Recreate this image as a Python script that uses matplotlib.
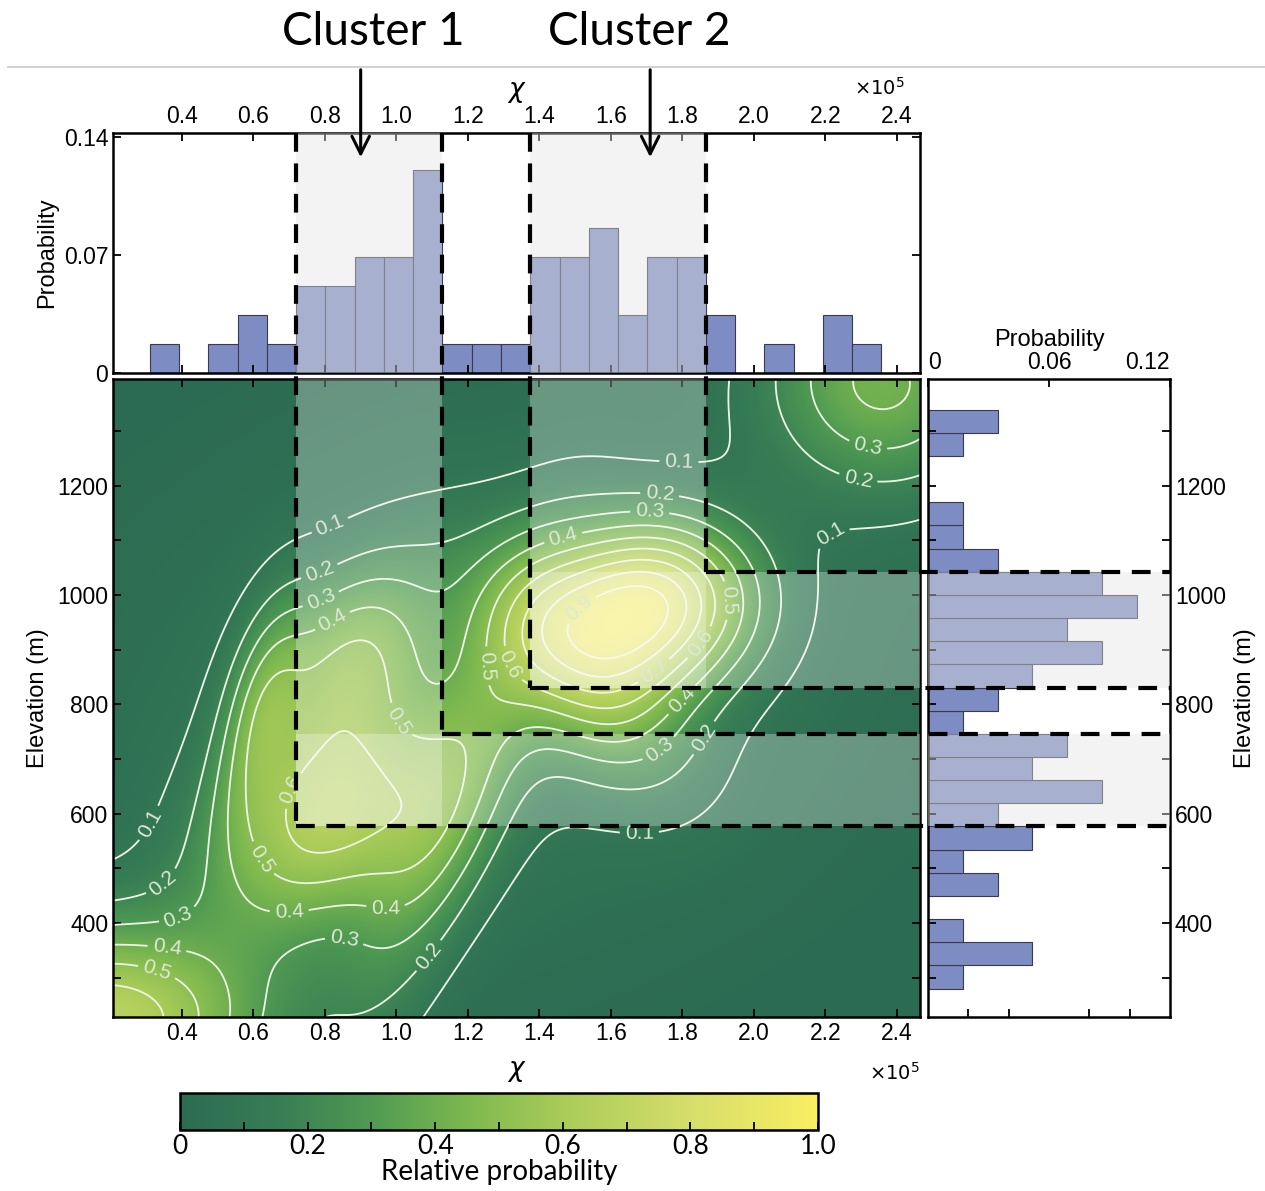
import numpy as np
import matplotlib.pyplot as plt
from matplotlib.colors import LinearSegmentedColormap
from matplotlib.patches import Rectangle, FancyArrowPatch
from matplotlib.lines import Line2D

# chi histogram (x 1e5), 25 equal bins
chi_lo, chi_hi = 0.310, 2.357
chi_prob = [0.0172, 0, 0.0172, 0.0345, 0.0172, 0.0517, 0.0517, 0.069, 0.069, 0.1207,
            0.0172, 0.0172, 0.0172, 0.069, 0.069, 0.0862, 0.0345, 0.069, 0.069,
            0.0345, 0, 0.0172, 0, 0.0345, 0.0172]

# elevation histogram (m), 25 equal bins, bottom to top
elev_lo, elev_hi = 280, 1339
elev_prob = [0.0172, 0.0517, 0.0172, 0, 0.0345, 0.0172, 0.0517, 0.0345, 0.0862, 0.0517,
             0.069, 0.0172, 0.0345, 0.0517, 0.0862, 0.069, 0.1034, 0.0862, 0.0345,
             0.0172, 0.0172, 0, 0, 0.0172, 0.0345]

# clusters as (first bin, last bin + 1)
cluster_names = ['Cluster 1', 'Cluster 2']
cluster_chi_bins = [(5, 10), (13, 19)]
cluster_elev_bins = [(7, 11), (13, 18)]
arrow_chi = [0.90, 1.71]
label_chi = [0.935, 1.68]

# relative probability surface as gaussian pieces
kde_cx = [1.713, 1.246, 0.803, 0.621, 0.175, 2.361, 1.146, 0.876, 1.512]
kde_cy = [984, 830, 587, 792, 218, 1391, 609, 890, 869]
kde_sx = [0.195, 0.729, 0.231, 0.084, 0.317, 0.231, 0.200, 0.165, 0.198]
kde_sy = [106, 353, 152, 141, 130, 140, 294, 129, 141]
kde_rho = [0.02, 0.28, 0.36, 0.47, -0.05, -0.05, 0.80, 0.35, -0.51]
kde_w = [0.787, 0.114, 0.550, 0.253, 0.660, 0.407, 0.265, 0.365, 0.429]

contour_levels = [0.1, 0.2, 0.3, 0.4, 0.5, 0.6, 0.7, 0.8, 0.9]
label_spots = [(0.822, 1114), (1.79, 1233), (0.31, 582), (2.23, 1092), (1.68, 556),
               (0.786, 1040), (1.737, 1187), (2.29, 1207), (0.347, 472), (1.085, 343),
               (1.857, 740), (0.786, 996), (1.709, 1152), (2.32, 1275), (0.386, 416),
               (0.856, 376), (1.737, 716), (0.82, 954), (1.466, 1106), (0.358, 354),
               (0.70, 422), (0.97, 427), (1.80, 807), (0.33, 312), (0.627, 519),
               (1.01, 771), (1.25, 870), (1.93, 990), (0.69, 648), (1.317, 872),
               (1.85, 912), (1.72, 862), (1.50, 985)]

chi_lim = (0.207, 2.465)
elev_lim = (228, 1395)

cmap = LinearSegmentedColormap.from_list('rp', [
    (0.0, '#2c6b53'), (0.15, '#367d55'), (0.3, '#4f9a52'), (0.45, '#7db84f'),
    (0.6, '#a9cb58'), (0.8, '#d6de6b'), (1.0, '#f8ee62')])
bar_color = '#7d8cc3'
plt.rcParams['font.family'] = ['Liberation Sans', 'DejaVu Sans']

W, H = 1265, 1191
fig = plt.figure(figsize=(W / 100, H / 100), dpi=100)


def box(l, t, r, b):
    return [l / W, 1 - b / H, (r - l) / W, (b - t) / H]


ax_top = fig.add_axes(box(113, 133, 920, 373))
ax = fig.add_axes(box(113, 379, 920, 1017))
ax_r = fig.add_axes(box(928, 379, 1170, 1017))
cax = fig.add_axes(box(180, 1093, 818, 1130))

chi_edges = np.linspace(chi_lo, chi_hi, len(chi_prob) + 1)
elev_edges = np.linspace(elev_lo, elev_hi, len(elev_prob) + 1)

# surface
gx = np.linspace(chi_lim[0], chi_lim[1], 400)
gy = np.linspace(elev_lim[0], elev_lim[1], 400)
X, Y = np.meshgrid(gx, gy)
Z = np.zeros_like(X)
for cx, cy, sx, sy, rh, w in zip(kde_cx, kde_cy, kde_sx, kde_sy, kde_rho, kde_w):
    u = (X - cx) / sx
    v = (Y - cy) / sy
    Z += w * np.exp(-0.5 * (u * u - 2 * rh * u * v + v * v) / (1 - rh * rh))
Z = Z / Z.max()

im = ax.imshow(Z, extent=[*chi_lim, *elev_lim], origin='lower', aspect='auto',
               cmap=cmap, vmin=0, vmax=1, interpolation='bilinear')
cs = ax.contour(X, Y, Z, levels=contour_levels, colors='#eef6e4', linewidths=1.3)
ax.clabel(cs, fmt='%.1f', fontsize=15, inline=True, inline_spacing=5, colors='#dfe9d5',
          manual=label_spots)
ax.set_xlim(chi_lim)
ax.set_ylim(elev_lim)

# histograms
ax_top.bar(chi_edges[:-1], chi_prob, width=np.diff(chi_edges), align='edge',
           color=bar_color, edgecolor='#3a3a4a', linewidth=0.8)
ax_top.set_xlim(chi_lim)
ax_top.set_ylim(0, 0.1424)
ax_r.barh(elev_edges[:-1], elev_prob, height=np.diff(elev_edges), align='edge',
          color=bar_color, edgecolor='#3a3a4a', linewidth=0.8)
ax_r.set_xlim(0, 0.12)
ax_r.set_ylim(elev_lim)

# cluster shading
for (c0, c1), (e0, e1) in zip(cluster_chi_bins, cluster_elev_bins):
    x0, x1 = chi_edges[c0], chi_edges[c1]
    y0, y1 = elev_edges[e0], elev_edges[e1]
    ax_top.add_patch(Rectangle((x0, 0), x1 - x0, 1, facecolor='#e4e4e4', alpha=0.42,
                               edgecolor='none', zorder=3))
    ax_r.add_patch(Rectangle((0, y0), 1, y1 - y0, facecolor='#e4e4e4', alpha=0.42,
                             edgecolor='none', zorder=3))
    ax.add_patch(Rectangle((x0, y0), x1 - x0, 2000, facecolor='white', alpha=0.28,
                           edgecolor='none', zorder=3))
    ax.add_patch(Rectangle((x0, y0), 5, y1 - y0, facecolor='white', alpha=0.28,
                           edgecolor='none', zorder=3))

# axes styling
for a in (ax_top, ax, ax_r):
    for s in a.spines.values():
        s.set_linewidth(1.8)
    a.tick_params(direction='in', length=6, width=1.3, labelsize=16.5,
                  top=True, right=True, bottom=True, left=True)

xt = [0.4, 0.6, 0.8, 1.0, 1.2, 1.4, 1.6, 1.8, 2.0, 2.2, 2.4]
for a in (ax_top, ax):
    a.set_xticks(xt)
    a.set_xticklabels([f'{v:.1f}' for v in xt])
ax_top.tick_params(labelbottom=False, labeltop=True)
ax_top.set_yticks([0, 0.07, 0.14])
ax_top.set_yticklabels(['0', '0.07', '0.14'])
ax_top.set_ylabel('Probability', fontsize=17, labelpad=4)
ax_top.set_xlabel(r'$\chi$', fontsize=19, labelpad=6)
ax_top.xaxis.set_label_position('top')
ax_top.text(0.981, 1.19, r'$\times10^5$', transform=ax_top.transAxes, ha='right',
            va='center', fontsize=14)

ax.set_yticks([400, 600, 800, 1000, 1200])
ax.set_yticks(np.arange(300, 1400, 100), minor=True)
ax.tick_params(which='minor', direction='in', length=6, width=1.3,
               top=False, bottom=False, left=True, right=True)
ax.set_ylabel('Elevation (m)', fontsize=17, labelpad=6)
ax.set_xlabel(r'$\chi$', fontsize=19, labelpad=10)
ax.text(1.0, -0.087, r'$\times10^5$', transform=ax.transAxes, ha='right',
        va='center', fontsize=14)

ax_r.set_yticks([400, 600, 800, 1000, 1200])
ax_r.set_yticks(np.arange(300, 1400, 100), minor=True)
ax_r.tick_params(which='minor', direction='in', length=6, width=1.3,
                 left=True, right=True, top=False, bottom=False)
ax_r.tick_params(labelleft=False, labelright=True, labelbottom=False, labeltop=True)
ax_r.set_xticks([0, 0.06, 0.12])
ax_r.set_xticklabels(['0', '0.06', '0.12'])
ax_r.get_xticklabels()[0].set_horizontalalignment('left')
ax_r.get_xticklabels()[-1].set_horizontalalignment('right')
ax_r.set_xticks(np.arange(0.02, 0.12, 0.02), minor=True)
ax_r.tick_params(axis='x', which='minor', direction='in', length=6, width=1.3,
                 bottom=True, top=False)
ax_r.tick_params(axis='x', which='major', bottom=False)
ax_r.set_xlabel('Probability', fontsize=17, labelpad=4)
ax_r.xaxis.set_label_position('top')
ax_r.set_ylabel('Elevation (m)', fontsize=17, labelpad=6)
ax_r.yaxis.set_label_position('right')

# colorbar
cb = fig.colorbar(im, cax=cax, orientation='horizontal')
cb.outline.set_linewidth(1.8)
cb.set_ticks([0, 0.2, 0.4, 0.6, 0.8, 1.0])
cb.set_ticklabels(['0', '0.2', '0.4', '0.6', '0.8', '1.0'])
cax.set_xticks(np.arange(0.1, 1.0, 0.2), minor=True)
cax.tick_params(which='both', direction='in', length=6, width=1.3, labelsize=19,
                colors='black')
cax.tick_params(which='major', pad=3)
for t in cax.get_xticklabels():
    t.set_family('Lato')
cb.set_label('Relative probability', fontsize=20, family='Lato', labelpad=0)

# dashed cluster guides running across the panels
inv = fig.transFigure.inverted()


def fpt(a, x, y):
    return inv.transform(a.transData.transform((x, y)))


for (c0, c1), (e0, e1) in zip(cluster_chi_bins, cluster_elev_bins):
    x0, x1 = chi_edges[c0], chi_edges[c1]
    y0, y1 = elev_edges[e0], elev_edges[e1]
    segs = [(fpt(ax_top, x0, 0.1424), fpt(ax, x0, y0)),
            (fpt(ax_top, x1, 0.1424), fpt(ax, x1, y1)),
            (fpt(ax, x0, y0), fpt(ax_r, 0.12, y0)),
            (fpt(ax, x1, y1), fpt(ax_r, 0.12, y1))]
    for p, q in segs:
        fig.add_artist(Line2D([p[0], q[0]], [p[1], q[1]], transform=fig.transFigure,
                              color='black', linewidth=3, dashes=(4.5, 2.8), zorder=10))

# header
fig.add_artist(Line2D([8 / W, 1], [1 - 67 / H, 1 - 67 / H], transform=fig.transFigure,
                      color='#c8c8c8', linewidth=1.2))
for name, xa, xl in zip(cluster_names, arrow_chi, label_chi):
    pa = fpt(ax_top, xa, 0)[0]
    pl = fpt(ax_top, xl, 0)[0]
    fig.text(pl, 1 - 32 / H, name, ha='center', va='center', fontsize=33, family='Lato')
    fig.add_artist(FancyArrowPatch(
        (pa, 1 - 67 / H), (pa, 1 - 160 / H), transform=fig.transFigure,
        arrowstyle='->,head_length=0.9,head_width=0.45', color='black', linewidth=2.2,
        mutation_scale=14))

fig.savefig('out.png', dpi=100)
